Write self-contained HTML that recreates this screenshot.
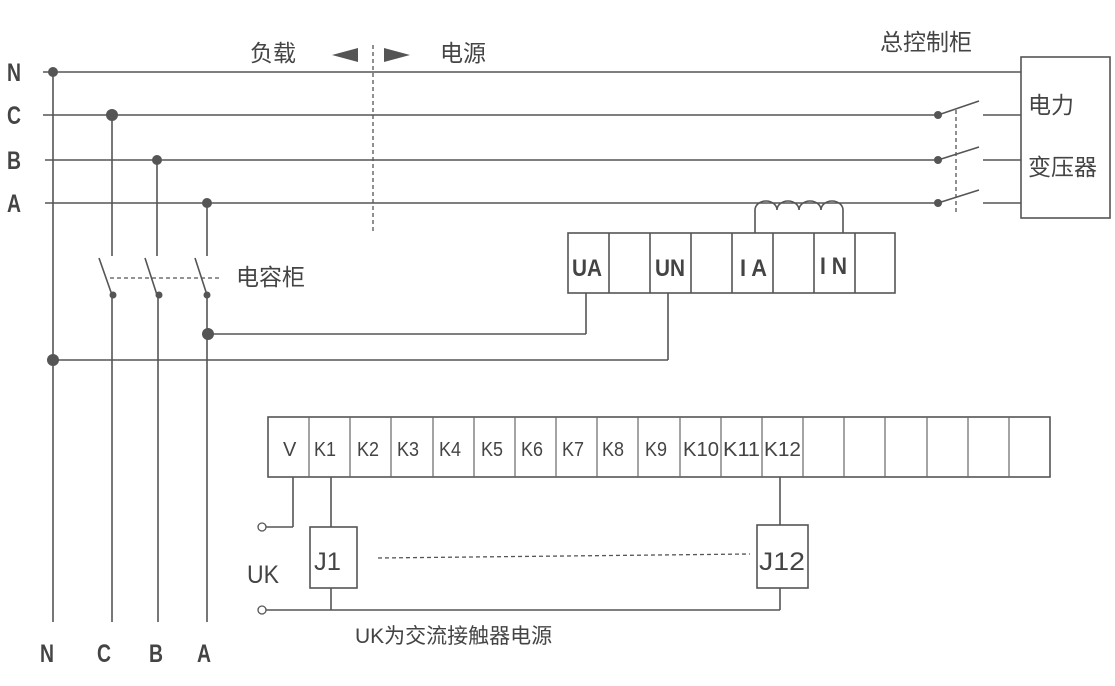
<!DOCTYPE html>
<html><head><meta charset="utf-8"><style>
body{margin:0;background:#fff}
svg{display:block}
text{font-family:"Liberation Sans","Noto Sans CJK SC",sans-serif;fill:#444}
.b{font-weight:bold}
</style></head><body>
<svg width="1115" height="686" viewBox="0 0 1115 686" xmlns="http://www.w3.org/2000/svg">
<g stroke="#555" stroke-width="1.6" fill="none">
<line x1="43" y1="72" x2="1021" y2="72"/>
<line x1="43" y1="115" x2="938" y2="115"/>
<line x1="45" y1="160" x2="938" y2="160"/>
<line x1="45" y1="203" x2="938" y2="203"/>
<line x1="53" y1="72" x2="53" y2="622"/>
<line x1="112" y1="115" x2="112" y2="256"/>
<line x1="157" y1="160" x2="157" y2="256"/>
<line x1="207" y1="203" x2="207" y2="256"/>
<line x1="99" y1="258" x2="112" y2="295"/>
<line x1="145" y1="258" x2="157" y2="295"/>
<line x1="195" y1="258" x2="207" y2="295"/>
<line x1="112" y1="295" x2="112" y2="622"/>
<line x1="158" y1="295" x2="158" y2="622"/>
<line x1="207" y1="295" x2="207" y2="622"/>
<line x1="207" y1="334" x2="586" y2="334"/>
<line x1="586" y1="293" x2="586" y2="334"/>
<line x1="53" y1="360" x2="668" y2="360"/>
<line x1="668" y1="293" x2="668" y2="360"/>
<line x1="938" y1="115" x2="979" y2="101"/>
<line x1="938" y1="160" x2="979" y2="147"/>
<line x1="938" y1="203" x2="979" y2="190"/>
<line x1="983" y1="115" x2="1021" y2="115"/>
<line x1="983" y1="160" x2="1021" y2="160"/>
<line x1="983" y1="203" x2="1021" y2="203"/>
<rect x="1021" y="57" width="89" height="161"/>
<path d="M755 233 V210 a11 9 0 0 1 22 0 a11 9 0 0 1 22 0 a11 9 0 0 1 22 0 a11 9 0 0 1 22 0 V233"/>
<rect x="568" y="233" width="327" height="60"/>
<line x1="609" y1="233" x2="609" y2="293"/><line x1="650" y1="233" x2="650" y2="293"/>
<line x1="691" y1="233" x2="691" y2="293"/><line x1="732" y1="233" x2="732" y2="293"/>
<line x1="773" y1="233" x2="773" y2="293"/><line x1="814" y1="233" x2="814" y2="293"/>
<line x1="855" y1="233" x2="855" y2="293"/>
<rect x="268" y="417" width="782" height="60"/>
<line x1="293" y1="477" x2="293" y2="527"/><line x1="293" y1="527" x2="266" y2="527"/>
<line x1="331" y1="477" x2="331" y2="527"/>
<rect x="310" y="527" width="47" height="61"/>
<line x1="331" y1="588" x2="331" y2="610"/>
<line x1="266" y1="610" x2="780" y2="610"/>
<line x1="780" y1="477" x2="780" y2="525"/>
<rect x="757" y="525" width="51" height="63"/>
<line x1="780" y1="588" x2="780" y2="610"/>
<circle cx="262" cy="527" r="4" stroke-width="1.3"/>
<circle cx="262" cy="610" r="4" stroke-width="1.3"/>
</g>
<g stroke="#555" stroke-width="1.3" stroke-dasharray="4,3" fill="none">
<line x1="373" y1="45" x2="373" y2="232"/>
<line x1="110" y1="278" x2="220" y2="278"/>
<line x1="956" y1="110" x2="956" y2="212"/>
<line x1="378" y1="558" x2="750" y2="554"/>
</g>
<g stroke="#666" stroke-width="1.2">
<line x1="309" y1="417" x2="309" y2="477"/><line x1="350" y1="417" x2="350" y2="477"/>
<line x1="391" y1="417" x2="391" y2="477"/><line x1="433" y1="417" x2="433" y2="477"/>
<line x1="474" y1="417" x2="474" y2="477"/><line x1="515" y1="417" x2="515" y2="477"/>
<line x1="556" y1="417" x2="556" y2="477"/><line x1="597" y1="417" x2="597" y2="477"/>
<line x1="638" y1="417" x2="638" y2="477"/><line x1="680" y1="417" x2="680" y2="477"/>
<line x1="721" y1="417" x2="721" y2="477"/><line x1="762" y1="417" x2="762" y2="477"/>
<line x1="803" y1="417" x2="803" y2="477"/><line x1="844" y1="417" x2="844" y2="477"/>
<line x1="885" y1="417" x2="885" y2="477"/><line x1="927" y1="417" x2="927" y2="477"/>
<line x1="968" y1="417" x2="968" y2="477"/><line x1="1009" y1="417" x2="1009" y2="477"/>
</g>
<g fill="#555">
<circle cx="53" cy="72" r="5"/><circle cx="112" cy="115" r="6"/><circle cx="157" cy="160" r="5"/>
<circle cx="207" cy="203" r="5"/><circle cx="113" cy="295" r="3.5"/><circle cx="159" cy="295" r="3.5"/>
<circle cx="207" cy="295" r="3.5"/><circle cx="208" cy="334" r="6"/><circle cx="53" cy="360" r="6"/>
<circle cx="938" cy="115" r="4"/><circle cx="938" cy="160" r="4"/><circle cx="938" cy="203" r="4"/>
<polygon points="332,55 358,48 358,62"/><polygon points="410,55 384,48 384,62"/>
</g>
<g class="b" font-size="25">
<text x="7" y="81" textLength="14" lengthAdjust="spacingAndGlyphs">N</text>
<text x="7" y="124" textLength="14" lengthAdjust="spacingAndGlyphs">C</text>
<text x="7" y="169" textLength="14" lengthAdjust="spacingAndGlyphs">B</text>
<text x="7" y="212" textLength="14" lengthAdjust="spacingAndGlyphs">A</text>
<text x="40" y="662" textLength="14" lengthAdjust="spacingAndGlyphs">N</text>
<text x="97" y="662" textLength="14" lengthAdjust="spacingAndGlyphs">C</text>
<text x="149" y="662" textLength="14" lengthAdjust="spacingAndGlyphs">B</text>
<text x="197" y="662" textLength="14" lengthAdjust="spacingAndGlyphs">A</text>
</g>
<g font-size="23">
<text x="250" y="61">负载</text><text x="440" y="61">电源</text>
<text x="880" y="50">总控制柜</text>
<text x="1028" y="113">电力</text><text x="1028" y="175">变压器</text>
<text x="236" y="285">电容柜</text>
</g>
<g class="b" font-size="24">
<text x="572" y="276" textLength="30" lengthAdjust="spacingAndGlyphs">UA</text>
<text x="655" y="276" textLength="30" lengthAdjust="spacingAndGlyphs">UN</text>
<text x="740" y="276" textLength="27" lengthAdjust="spacingAndGlyphs">I A</text>
<text x="820" y="274" textLength="27" lengthAdjust="spacingAndGlyphs">I N</text>
</g>
<g font-size="20">
<text x="283" y="456">V</text><text x="314" y="456" textLength="22" lengthAdjust="spacingAndGlyphs">K1</text>
<text x="357" y="456" textLength="22" lengthAdjust="spacingAndGlyphs">K2</text>
<text x="397" y="456" textLength="22" lengthAdjust="spacingAndGlyphs">K3</text>
<text x="439" y="456" textLength="22" lengthAdjust="spacingAndGlyphs">K4</text>
<text x="481" y="456" textLength="22" lengthAdjust="spacingAndGlyphs">K5</text>
<text x="521" y="456" textLength="22" lengthAdjust="spacingAndGlyphs">K6</text>
<text x="562" y="456" textLength="22" lengthAdjust="spacingAndGlyphs">K7</text>
<text x="602" y="456" textLength="22" lengthAdjust="spacingAndGlyphs">K8</text>
<text x="645" y="456" textLength="22" lengthAdjust="spacingAndGlyphs">K9</text>
<text x="683" y="456" textLength="36" lengthAdjust="spacingAndGlyphs">K10</text>
<text x="723" y="456" textLength="37" lengthAdjust="spacingAndGlyphs">K11</text>
<text x="764" y="456" textLength="37" lengthAdjust="spacingAndGlyphs">K12</text>
<text x="314" y="570" font-size="25" textLength="27" lengthAdjust="spacingAndGlyphs">J1</text>
<text x="759" y="570" font-size="25" textLength="46" lengthAdjust="spacingAndGlyphs">J12</text>
<text x="247" y="583" font-size="25" textLength="32" lengthAdjust="spacingAndGlyphs">UK</text>
<text x="355" y="643" font-size="21">UK为交流接触器电源</text>
</g>
</svg>
</body></html>
